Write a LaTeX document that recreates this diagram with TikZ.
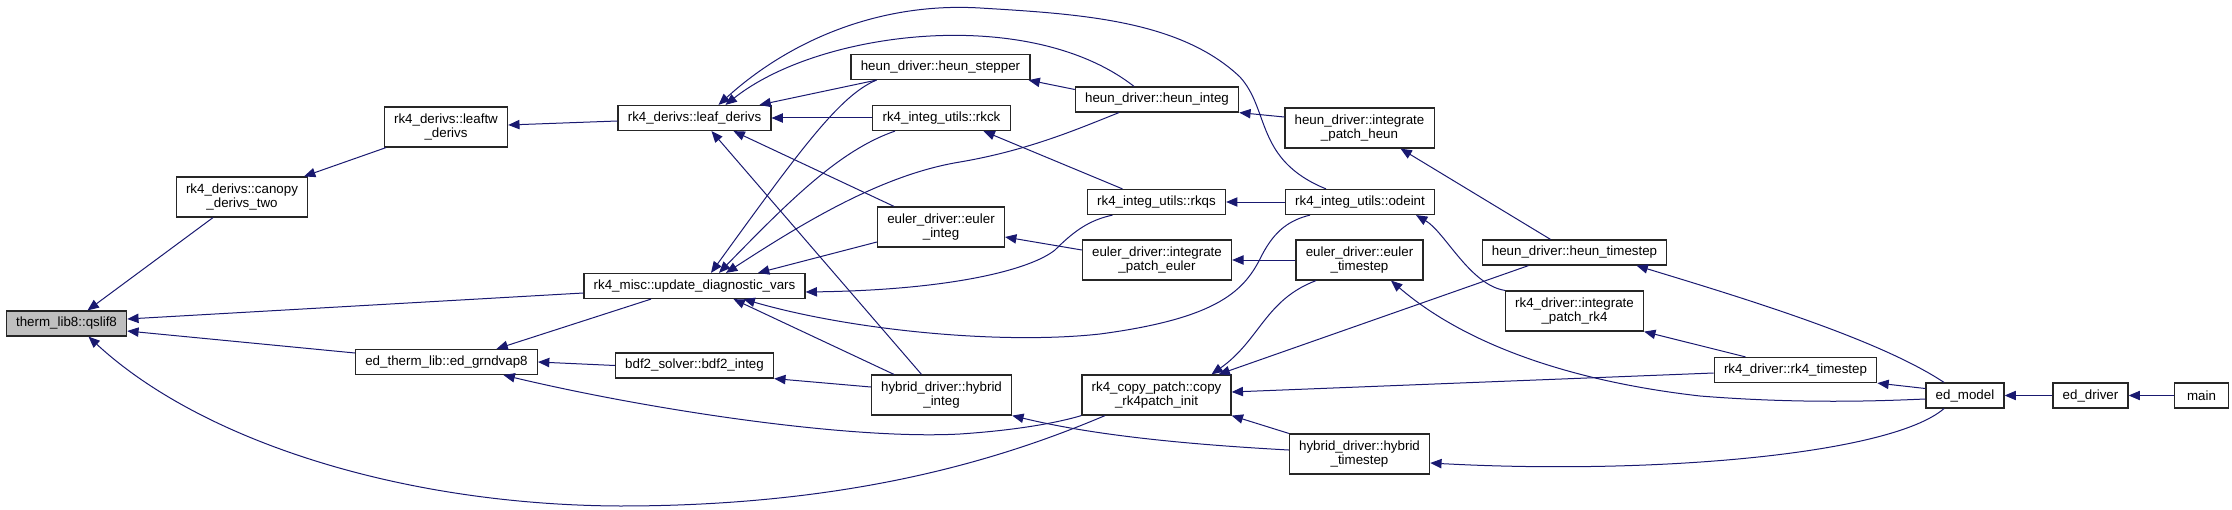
\documentclass[tikz,border=0pt]{standalone}
\usepackage{fontspec}
\setmainfont{Liberation Sans}
\usepackage{tikz}
\usetikzlibrary{arrows.meta, calc}
\definecolor{edgeblue}{HTML}{191970}
\definecolor{rootgray}{HTML}{BFBFBF}

\begin{document}
\begin{tikzpicture}[x=0.75pt, y=-0.75pt,
        fn/.style={draw=black!85, fill=white, line width=0.9pt, font=\fontsize{10}{10.6}\selectfont, align=center, inner xsep=7.3pt, inner ysep=0pt, minimum height=18.75pt},
        fn2/.style={fn, minimum height=30pt},
        calls/.style={draw=edgeblue, line width=0.75pt, {Triangle[length=8.5pt,width=7pt]}-}]
        \useasboundingbox (0,0) rectangle (2232,510);

        % Funzioni
        \node[fn, fill=rootgray] (qslif8) at (66.5,323.5) {therm\_lib8::qslif8};
        \node[fn2] (canopy) at (242,197) {rk4\_derivs::canopy\\\_derivs\_two};
        \node[fn2] (leaftw) at (446,127) {rk4\_derivs::leaftw\\\_derivs};
        \node[fn] (grndvap8) at (446.5,362) {ed\_therm\_lib::ed\_grndvap8};
        \node[fn] (leafderivs) at (694.5,118) {rk4\_derivs::leaf\_derivs};
        \node[fn] (updiag) at (694.5,286) {rk4\_misc::update\_diagnostic\_vars};
        \node[fn] (bdf2) at (694.5,365.5) {bdf2\_solver::bdf2\_integ};
        \node[fn] (heunstepper) at (940.5,67) {heun\_driver::heun\_stepper};
        \node[fn] (rkck) at (941.5,118) {rk4\_integ\_utils::rkck};
        \node[fn2] (eulerinteg) at (941,227) {euler\_driver::euler\\\_integ};
        \node[fn2] (hybinteg) at (941.5,395) {hybrid\_driver::hybrid\\\_integ};
        \node[fn] (heuninteg) at (1157,99.5) {heun\_driver::heun\_integ};
        \node[fn] (rkqs) at (1156.5,202) {rk4\_integ\_utils::rkqs};
        \node[fn2] (patcheuler) at (1157,260) {euler\_driver::integrate\\\_patch\_euler};
        \node[fn2] (copyinit) at (1156.5,395) {rk4\_copy\_patch::copy\\\_rk4patch\_init};
        \node[fn2] (patchheun) at (1359.5,128) {heun\_driver::integrate\\\_patch\_heun};
        \node[fn] (odeint) at (1360,202) {rk4\_integ\_utils::odeint};
        \node[fn2] (eulerts) at (1359.5,260) {euler\_driver::euler\\\_timestep};
        \node[fn2] (hybts) at (1359.5,454) {hybrid\_driver::hybrid\\\_timestep};
        \node[fn] (heunts) at (1574.5,252.5) {heun\_driver::heun\_timestep};
        \node[fn2] (patchrk4) at (1574.5,311) {rk4\_driver::integrate\\\_patch\_rk4};
        \node[fn] (rkts) at (1795.5,370) {rk4\_driver::rk4\_timestep};
        \node[fn] (edmodel) at (1965,395.5) {ed\_model};
        \node[fn] (eddriver) at (2090.5,395.5) {ed\_driver};
        \node[fn, minimum width=40pt] (main) at (2201.5,395.5) {main};

        % Chiamate verso qslif8
        \draw[calls] ($(qslif8.north)+(21,0)$) -- ($(canopy.south)+(-29,0)$);
        \draw[calls] ($(qslif8.east)+(0,-4.5)$) -- ($(updiag.west)+(0,7)$);
        \draw[calls] ($(qslif8.east)+(0,7.5)$) -- ($(grndvap8.west)+(0,-9)$);
        \draw[calls] ($(qslif8.south)+(22,0)$) .. controls (200,440) and (400,505) .. (620,506)
            .. controls (850,506) and (1000,460) .. ($(copyinit.south)+(-51.5,0)$);

        % Derivate
        \draw[calls] ($(canopy.north)+(62,0)$) -- ($(leaftw.south)+(-60,0)$);
        \draw[calls] ($(leaftw.east)+(0,-2)$) -- ($(leafderivs.west)+(0,3)$);
        \draw[calls] ($(leafderivs.north)+(65,0)$) -- ($(heunstepper.south)+(-64,0)$);
        \draw[calls] (leafderivs.east) -- (rkck.west);
        \draw[calls] ($(leafderivs.north)+(31,0)$) .. controls (820,30) and (1030,5) .. ($(heuninteg.north)+(-23,0)$);
        \draw[calls] ($(leafderivs.north)+(24,0)$) .. controls (790,40) and (880,2) .. (980,8)
            .. controls (1080,14) and (1180,20) .. (1240,77)
            .. controls (1270,110) and (1255,160) .. ($(odeint.north)+(-34,0)$);
        \draw[calls] ($(leafderivs.south)+(39,0)$) -- ($(eulerinteg.north)+(-47,0)$);
        \draw[calls] ($(leafderivs.south)+(17,0)$) -- ($(hybinteg.north)+(-20,0)$);
        \draw[calls] ($(rkck.south)+(42,0)$) -- ($(rkqs.north)+(-34,0)$);
        \draw[calls] ($(heunstepper.south east)+(-2,0)$) -- ($(heuninteg.west)+(0,-10)$);
        \draw[calls] (heuninteg.south east) -- ($(patchheun.west)+(0,-11)$);
        \draw[calls] ($(patchheun.south)+(41,0)$) -- ($(heunts.north)+(-24,0)$);
        \draw[calls] (rkqs.east) -- (odeint.west);

        % Chiamate verso update_diagnostic_vars
        \draw[calls] ($(updiag.north)+(16.5,0)$) .. controls (800,150) and (840,95) .. ($(heunstepper.south)+(-64,0)$);
        \draw[calls] ($(updiag.north)+(24.5,0)$) .. controls (790,200) and (840,150) .. ($(rkck.south)+(-46.5,0)$);
        \draw[calls] ($(updiag.north)+(31.5,0)$) .. controls (800,225) and (880,175) .. (960,162)
            .. controls (1030,150) and (1080,128) .. ($(heuninteg.south)+(-38,0)$);
        \draw[calls] ($(updiag.north)+(63.5,0)$) -- ($(eulerinteg.west)+(0,15)$);
        \draw[calls] ($(updiag.east)+(0,6)$) .. controls (950,290) and (1030,270) .. (1055,250)
            .. controls (1075,230) and (1090,220) .. ($(rkqs.south)+(-44,0)$);
        \draw[calls] ($(updiag.south)+(49,0)$) .. controls (850,330) and (1000,345) .. (1100,334)
            .. controls (1220,318) and (1245,290) .. (1262,255)
            .. controls (1275,230) and (1290,220) .. ($(odeint.south)+(-50,0)$);
        \draw[calls] ($(updiag.south)+(39,0)$) -- ($(hybinteg.north)+(-47.5,0)$);
        \draw[calls] ($(grndvap8.north)+(50,0)$) -- ($(updiag.south)+(-43.5,0)$);

        % Integratori
        \draw[calls] (bdf2.south east) -- ($(hybinteg.west)+(0,-8)$);
        \draw[calls] (grndvap8.east) -- (bdf2.west);
        \draw[calls] ($(grndvap8.south)+(57,0)$) .. controls (650,410) and (850,440) .. (960,434)
            .. controls (1020,430) and (1060,422) .. (copyinit.south west);
        \draw[calls] ($(eulerinteg.east)+(0,10)$) -- ($(patcheuler.west)+(0,-10)$);
        \draw[calls] (patcheuler.east) -- (eulerts.west);
        \draw[calls] ($(odeint.south)+(56,0)$) .. controls (1445,232) and (1470,285) .. (patchrk4.north west);
        \draw[calls] ($(copyinit.north)+(62,0)$) -- ($(heunts.south)+(-46,0)$);
        \draw[calls] ($(copyinit.north)+(55,0)$) .. controls (1260,340) and (1265,300) .. ($(eulerts.south)+(-43.5,0)$);
        \draw[calls] ($(copyinit.east)+(0,-3)$) -- ($(rkts.west)+(0,3)$);
        \draw[calls] (copyinit.south east) -- (hybts.north west);
        \draw[calls] (hybinteg.south east) .. controls (1080,432) and (1160,443) .. ($(hybts.west)+(0,-4)$);

        % Passi temporali
        \draw[calls] ($(eulerts.south)+(31.5,0)$) .. controls (1460,340) and (1560,380) .. (1700,396)
            .. controls (1800,404) and (1880,401) .. ($(edmodel.west)+(0,3.5)$);
        \draw[calls] ($(heunts.south)+(62,0)$) .. controls (1750,300) and (1880,340) .. ($(edmodel.north)+(-21,0)$);
        \draw[calls] (patchrk4.south east) -- ($(rkts.north)+(-50,0)$);
        \draw[calls] (rkts.south east) -- ($(edmodel.west)+(0,-7)$);
        \draw[calls] ($(hybts.east)+(0,9)$) .. controls (1650,475) and (1890,455) .. ($(edmodel.south)+(-21,0)$);
        \draw[calls] (edmodel.east) -- (eddriver.west);
        \draw[calls] (eddriver.east) -- (main.west);
    \end{tikzpicture}
\end{document}
